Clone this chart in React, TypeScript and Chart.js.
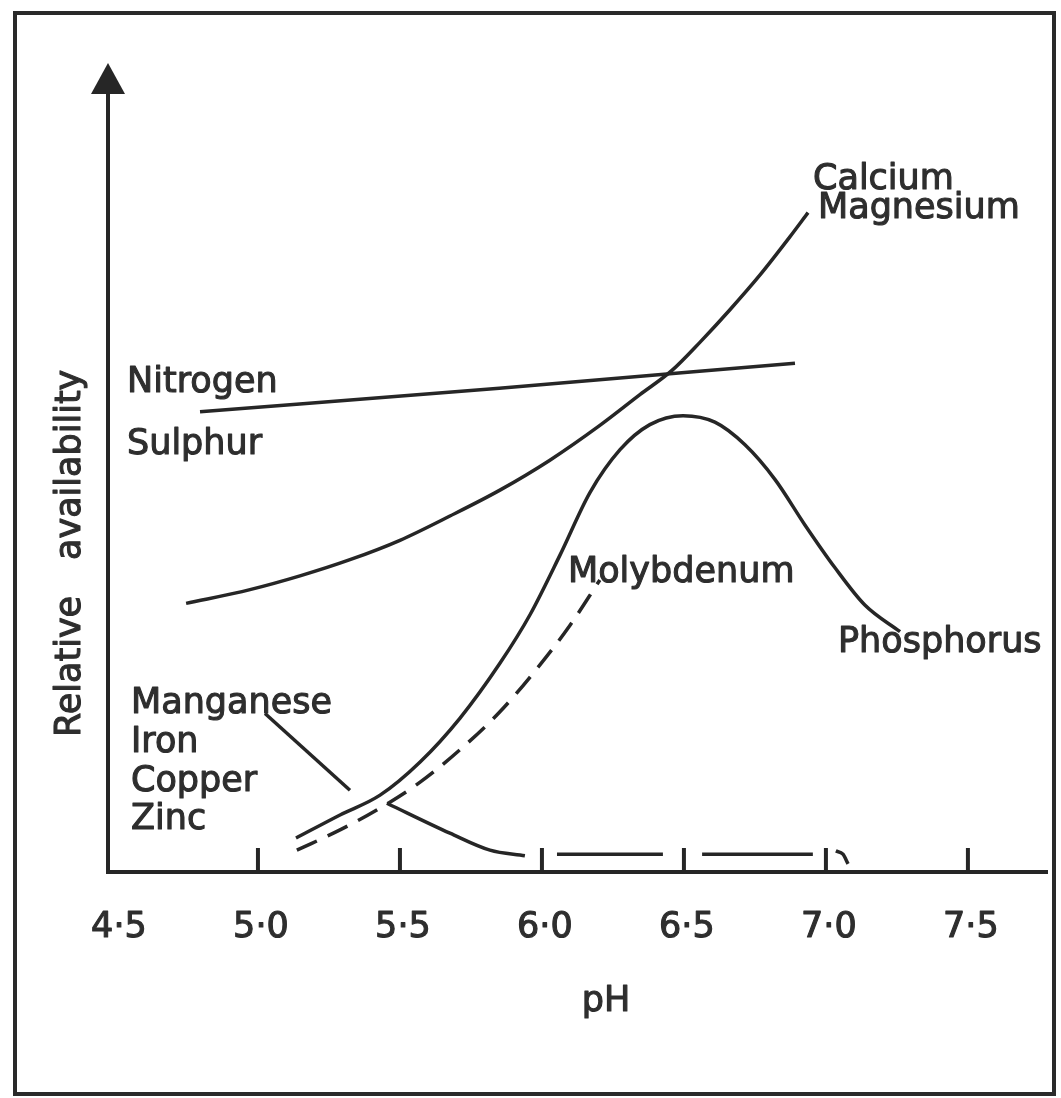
import React, { useEffect, useRef } from "react";
import { Chart, registerables } from "chart.js";

Chart.register(...registerables);

// ---- axis ticks ----
const phTicks = [4.5, 5.0, 5.5, 6.0, 6.5, 7.0, 7.5];
const phTickLabels = ["4·5", "5·0", "5·5", "6·0", "6·5", "7·0", "7·5"];
const phMin = 4.472;
const phMax = 7.782;
const availMax = 100;

// ---- Calcium / Magnesium ----
const calciumPH = [4.747, 4.972, 5.148, 5.324, 5.5, 5.676, 5.852, 6.028, 6.204, 6.345, 6.458, 6.557, 6.662, 6.768, 6.873, 6.937];
const calciumVal = [33.2, 34.9, 36.6, 38.6, 41.0, 44.0, 47.2, 50.9, 55.2, 59.0, 62.0, 65.5, 69.5, 73.8, 78.5, 81.5];

// ---- Nitrogen / Sulphur ----
const nitrogenPH = [4.796, 5.85, 6.891];
const nitrogenVal = [56.9, 59.8, 62.9];

// ---- Phosphorus ----
const phosphorusPH = [5.134, 5.289, 5.43, 5.571, 5.711, 5.852, 5.958, 6.064, 6.169, 6.275, 6.38, 6.497, 6.609, 6.715, 6.821, 6.926, 7.032, 7.137, 7.261];
const phosphorusVal = [4.2, 7.05, 9.5, 13.6, 19.0, 25.8, 31.8, 39.2, 46.9, 52.2, 55.3, 56.4, 55.6, 52.8, 48.5, 42.9, 37.6, 33.0, 29.7];

// ---- Molybdenum (dashed) ----
const molybdenumPH = [5.137, 5.289, 5.43, 5.571, 5.711, 5.852, 5.993, 6.099, 6.204];
const molybdenumVal = [2.7, 5.2, 7.9, 11.1, 15.1, 19.8, 25.6, 30.5, 36.1];

// ---- Manganese / Iron / Copper / Zinc ----
const manganeseAPH = [5.025, 5.324];
const manganeseAVal = [19.6, 10.1];
const manganeseBPH = [5.454, 5.676, 5.817, 5.94];
const manganeseBVal = [8.5, 4.8, 2.7, 2.0];
const manganeseCPH = [6.053, 6.426];
const manganeseCVal = [2.2, 2.2];
const manganeseDPH = [6.564, 6.954];
const manganeseDVal = [2.2, 2.2];
const manganeseEPH = [7.035, 7.06, 7.078];
const manganeseEVal = [2.6, 2.2, 1.0];

// ---- text labels ----
const curveLabels = ["Calcium", "Magnesium", "Nitrogen", "Sulphur", "Molybdenum", "Phosphorus", "Manganese", "Iron", "Copper", "Zinc"];
const xTitle = "pH";
const yTitleWords = ["Relative", "availability"];

const INK = "#262626";
const TEXT = "#2e2e2e";
const FONT = "'DejaVu Sans', 'Liberation Sans', sans-serif";

const zip = (xs: number[], ys: number[]) => xs.map((x, i) => ({ x, y: ys[i] }));

// label anchors (left, baseline) in pixels
const labelPos: Record<string, [number, number]> = {
  Calcium: [813, 189],
  Magnesium: [818, 218],
  Nitrogen: [127, 392],
  Sulphur: [127, 454],
  Molybdenum: [568, 582],
  Phosphorus: [838, 652],
  Manganese: [131, 713],
  Iron: [131, 752],
  Copper: [131, 791],
  Zinc: [131, 829],
};

const boldText = (ctx: CanvasRenderingContext2D, s: string, x: number, y: number) => {
  ctx.fillText(s, x, y);
  ctx.strokeText(s, x, y);
};

const decorPlugin = {
  id: "decor",
  beforeDraw(chart: any) {
    const { ctx } = chart;
    ctx.save();
    ctx.fillStyle = "#ffffff";
    ctx.fillRect(0, 0, chart.width, chart.height);
    ctx.restore();
  },
  afterDraw(chart: any) {
    const { ctx, chartArea } = chart;
    const xs = chart.scales.x;
    const ys = chart.scales.y;
    const x0 = chartArea.left;
    const y0 = ys.getPixelForValue(0);
    ctx.save();

    // outer frame
    ctx.strokeStyle = "#2a2a2a";
    ctx.lineWidth = 4;
    ctx.strokeRect(15, 13, 1039, 1081);

    // axes
    ctx.strokeStyle = INK;
    ctx.lineWidth = 4;
    ctx.lineCap = "butt";
    ctx.beginPath();
    ctx.moveTo(x0, y0);
    ctx.lineTo(x0, chartArea.top + 28);
    ctx.moveTo(x0 - 2, y0);
    ctx.lineTo(chartArea.right, y0);
    ctx.stroke();

    // arrow head
    ctx.fillStyle = INK;
    ctx.beginPath();
    ctx.moveTo(x0, chartArea.top);
    ctx.lineTo(x0 - 17, chartArea.top + 31);
    ctx.lineTo(x0 + 17, chartArea.top + 31);
    ctx.closePath();
    ctx.fill();

    // ticks (pointing inward)
    phTicks.forEach((t, i) => {
      const px = xs.getPixelForValue(t);
      if (i > 0) {
        ctx.beginPath();
        ctx.moveTo(px, y0);
        ctx.lineTo(px, y0 - 24);
        ctx.stroke();
      }
    });

    // text styling
    ctx.font = `35px ${FONT}`;
    ctx.fillStyle = TEXT;
    ctx.strokeStyle = TEXT;
    ctx.lineWidth = 1.1;
    ctx.lineJoin = "round";
    ctx.textAlign = "center";
    ctx.textBaseline = "alphabetic";
    phTicks.forEach((t, i) => {
      const px = xs.getPixelForValue(t);
      boldText(ctx, phTickLabels[i], px + 3, 937);
    });

    // x title
    boldText(ctx, xTitle, 606, 1011);

    // y title (rotated)
    ctx.save();
    ctx.translate(80, 0);
    ctx.rotate(-Math.PI / 2);
    ctx.textAlign = "left";
    boldText(ctx, yTitleWords[0], -737, 0);
    boldText(ctx, yTitleWords[1], -560, 0);
    ctx.restore();

    // curve labels
    ctx.textAlign = "left";
    curveLabels.forEach((name) => {
      const p = labelPos[name];
      boldText(ctx, name, p[0], p[1]);
    });

    ctx.restore();
  },
};

export default function App() {
  const ref = useRef<HTMLCanvasElement | null>(null);

  useEffect(() => {
    if (!ref.current) return;
    const line = (data: { x: number; y: number }[], extra: any = {}) => ({
      data,
      showLine: true,
      borderColor: INK,
      borderWidth: 3.5,
      pointRadius: 0,
      fill: false,
      cubicInterpolationMode: "monotone",
      ...extra,
    });
    const chart = new Chart(ref.current, {
      type: "scatter",
      data: {
        datasets: [
          line(zip(calciumPH, calciumVal), { label: "Calcium / Magnesium" }),
          line(zip(nitrogenPH, nitrogenVal), { label: "Nitrogen / Sulphur" }),
          line(zip(phosphorusPH, phosphorusVal), { label: "Phosphorus" }),
          line(zip(molybdenumPH, molybdenumVal), { label: "Molybdenum", borderDash: [22, 12] }),
          line(zip(manganeseAPH, manganeseAVal), { label: "Manganese", cubicInterpolationMode: "default", tension: 0 }),
          line(zip(manganeseBPH, manganeseBVal), { label: "Manganese 2" }),
          line(zip(manganeseCPH, manganeseCVal), { label: "Manganese 3", tension: 0, cubicInterpolationMode: "default" }),
          line(zip(manganeseDPH, manganeseDVal), { label: "Manganese 4", tension: 0, cubicInterpolationMode: "default" }),
          line(zip(manganeseEPH, manganeseEVal), { label: "Manganese 5" }),
        ] as any,
      },
      options: {
        animation: false,
        responsive: false,
        devicePixelRatio: 1,
        layout: { padding: { left: 108, right: 13, top: 63, bottom: 226 } },
        plugins: { legend: { display: false }, tooltip: { enabled: false } },
        scales: {
          x: { type: "linear", min: phMin, max: phMax, display: false },
          y: { type: "linear", min: 0, max: availMax, display: false },
        },
      },
      plugins: [decorPlugin],
    });
    return () => chart.destroy();
  }, []);

  return (
    <div style={{ position: "absolute", left: 0, top: 0, width: 1061, height: 1098, background: "#fff" }}>
      <canvas ref={ref} width={1061} height={1098} style={{ display: "block", width: 1061, height: 1098 }} />
    </div>
  );
}
